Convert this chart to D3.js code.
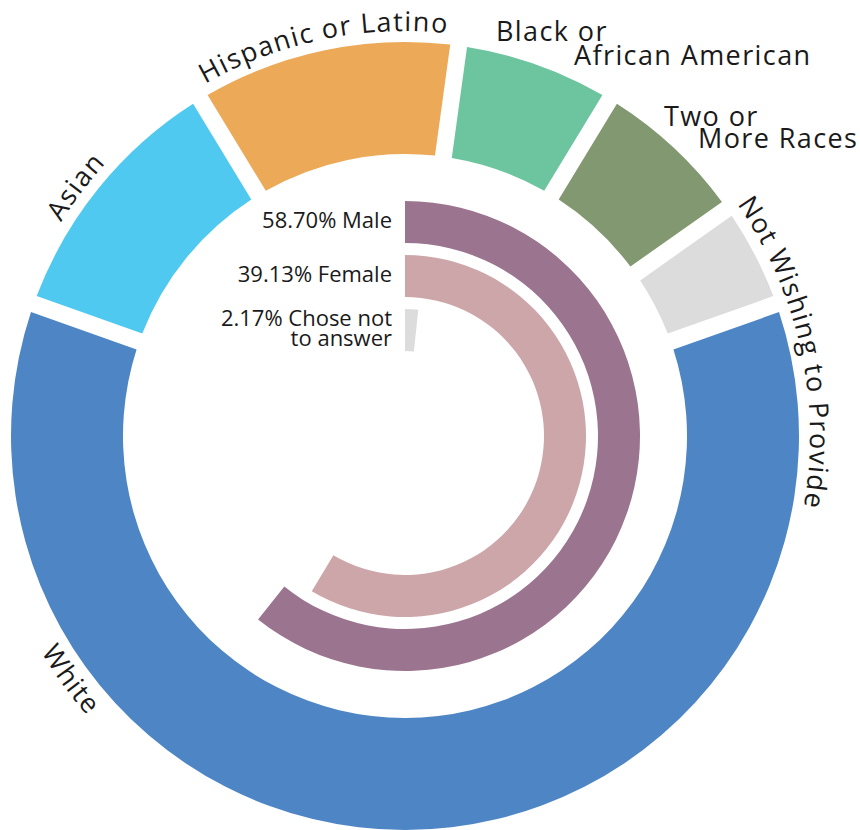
<!DOCTYPE html>
<html>
<head>
<meta charset="utf-8">
<script src="https://cdn.jsdelivr.net/npm/d3@7"></script>
<style>
  body { margin: 0; background: #fff; }
  text { font-family: "Open Sans", sans-serif; fill: #1a1a1a; }
</style>
</head>
<body>
<div id="container"></div>
<script>
/* DATA */
const races = ["White", "Asian", "Hispanic or Latino", "Black or African American", "Two or More Races", "Not Wishing to Provide"];
const raceCounts = [28, 5, 5, 3, 3, 2];

const genders = ["Male", "Female", "Chose not to answer"];
const genderPct = [58.70, 39.13, 2.17];
const genderLabels = [["58.70% Male"], ["39.13% Female"], ["2.17% Chose not", "to answer"]];

/* CONSTANTS */
const width = 860, height = 830,
  cx = 405, cy = 436,
  outerR = 394, innerR = 282,
  toRad = Math.PI / 180;

const raceColor = d3.scaleOrdinal()
  .domain(races)
  .range(["#4e86c5", "#50c9f1", "#eca957", "#6dc59f", "#829871", "#dcdcdc"]);

const genderColor = d3.scaleOrdinal()
  .domain(genders)
  .range(["#9b748f", "#cda6aa", "#dcdcdc"]);

// label placement along each race arc (fraction of the slice), curved labels
const curved = {
  "White": { at: 0.746, flip: true },
  "Asian": { at: 0.45 },
  "Hispanic or Latino": { at: 0.5 },
  "Not Wishing to Provide": { at: 0.02, anchor: "start" }
};
// two horizontal labels, offsets from centre
const flat = {
  "Black or African American": [["Black or", 91, -395], ["African American", 169, -371]],
  "Two or More Races": [["Two or", 259, -310], ["More Races", 293, -288]]
};

const svg = d3.select("#container")
  .append("svg")
  .attr("width", width)
  .attr("height", height)

const g = svg.append("g").attr("transform", `translate(${cx},${cy})`)

/* OUTER DONUT */
const total = d3.sum(raceCounts)
const start = Math.PI - Math.PI * raceCounts[0] / total  // White centred at the bottom

const pie = d3.pie()
  .sort(null)
  .value(d => d.count)
  .startAngle(start)
  .endAngle(start + 2 * Math.PI)

const slices = pie(races.map((r, i) => ({ race: r, count: raceCounts[i] })))

const arc = d3.arc()
  .innerRadius(innerR)
  .outerRadius(outerR)
  .padAngle(0.035)

g.selectAll("path.race")
  .data(slices)
  .join("path")
  .attr("class", "race")
  .attr("d", arc)
  .attr("fill", d => raceColor(d.data.race))

// curved labels
const defs = svg.append("defs")
slices.forEach((s, i) => {
  const opt = curved[s.data.race]
  if (!opt) return
  const a = s.startAngle + (s.endAngle - s.startAngle) * opt.at - Math.PI / 2
  const p = d3.path()
  if (opt.flip) {
    p.arc(0, 0, 423, a + Math.PI / 2, a - Math.PI / 2, true)
  } else if (opt.anchor === "start") {
    p.arc(0, 0, 405, a, a + Math.PI, false)
  } else {
    p.arc(0, 0, 405, a - Math.PI / 2, a + Math.PI / 2, false)
  }
  defs.append("path").attr("id", "lab" + i).attr("d", p.toString())
  g.append("text")
    .style("font-size", "27px")
    .style("letter-spacing", "1.4px")
    .append("textPath")
    .attr("href", "#lab" + i)
    .attr("startOffset", opt.anchor === "start" ? "0%" : "50%")
    .attr("text-anchor", opt.anchor === "start" ? "start" : "middle")
    .text(s.data.race)
})

// horizontal two-line labels
Object.entries(flat).forEach(([race, lines]) => {
  const t = g.append("text")
    .style("font-size", "27px")
    .style("letter-spacing", "1.4px")
  lines.forEach(([s, dx, dy]) => {
    t.append("tspan").attr("x", dx).attr("y", dy).text(s)
  })
})

/* INNER RADIAL BARS */
const rScale = d3.scaleBand()
  .domain(genders)
  .range([235, 85])
  .paddingInner(12 / 54)

// sweep for each share
const angleScale = d3.scaleLinear()
  .domain([0, 2.17, 39.13, 58.70])
  .range([0, 6 * toRad, 211 * toRad, 218.7 * toRad])

const bars = genders.map((gd, i) => ({ gender: gd, pct: genderPct[i], label: genderLabels[i] }))

const barArc = d3.arc()
  .innerRadius(d => rScale(d.gender))
  .outerRadius(d => rScale(d.gender) + rScale.bandwidth())
  .startAngle(0)
  .endAngle(d => angleScale(d.pct))

g.selectAll("path.bar")
  .data(bars)
  .join("path")
  .attr("class", "bar")
  .attr("d", barArc)
  .attr("fill", d => genderColor(d.gender))

const lab = g.selectAll("text.glab")
  .data(bars)
  .join("text")
  .attr("class", "glab")
  .attr("text-anchor", "end")
  .style("font-size", "22px")
  .attr("y", d => -(rScale(d.gender) + rScale.bandwidth() / 2) + 6 - (d.label.length - 1) * 10)

lab.selectAll("tspan")
  .data(d => d.label)
  .join("tspan")
  .attr("x", -13)
  .attr("dy", (d, i) => i ? 20 : 0)
  .text(d => d)
</script>
</body>
</html>
